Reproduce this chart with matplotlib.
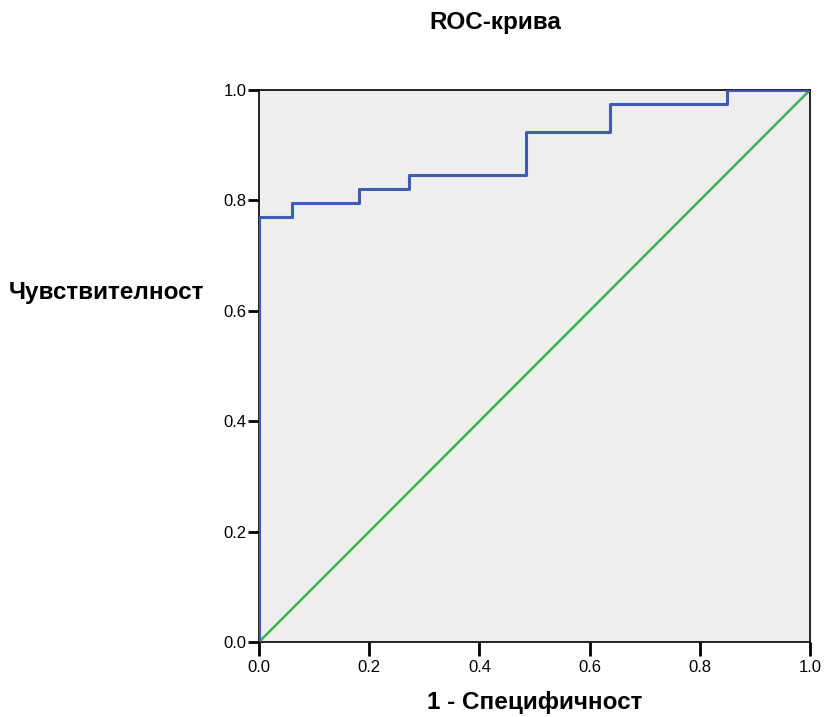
import numpy as np
import matplotlib
matplotlib.use("Agg")
import matplotlib.pyplot as plt

plt.rcParams["font.family"] = ["Liberation Sans", "DejaVu Sans"]

# ROC-крива: точки на стъпаловидната крива (1 - специфичност, чувствителност)
fpr = [0.0, 0.0, 2/33, 2/33, 6/33, 6/33, 9/33, 9/33, 16/33, 16/33, 21/33, 21/33, 28/33, 28/33, 1.0]
tpr = [0.0, 30/39, 30/39, 31/39, 31/39, 32/39, 32/39, 33/39, 33/39, 36/39, 36/39, 38/39, 38/39, 1.0, 1.0]
ref_line = [0.0, 1.0]

ticks = [0.0, 0.2, 0.4, 0.6, 0.8, 1.0]
tick_labels = ["0.0", "0.2", "0.4", "0.6", "0.8", "1.0"]

fig = plt.figure(figsize=(8.26, 7.17), dpi=100)
ax = fig.add_axes([259/826, 75/717, 551/826, 552/717])
ax.set_facecolor("#eeeeee")

ax.plot(ref_line, ref_line, color="#3cb44b", linewidth=1.8, zorder=2)
ax.plot(fpr, tpr, color="#3f5bb5", linewidth=2.2, zorder=3)

ax.set_xlim(0, 1)
ax.set_ylim(0, 1)
ax.set_xticks(ticks)
ax.set_xticklabels(tick_labels)
ax.set_yticks(ticks)
ax.set_yticklabels(tick_labels)
ax.tick_params(axis="both", direction="out", length=8, width=2, labelsize=12, color="black", pad=1)
ax.tick_params(axis="x", length=10, pad=3)

for s in ax.spines.values():
    s.set_linewidth(1.2)
    s.set_color("black")

fig.text(495/826, 1 - 23/717, "ROC-крива", ha="center", va="center", fontsize=17.5, fontweight="bold")
fig.text(9/826, 1 - 293/717, "Чувствителност", ha="left", va="center", fontsize=17.5, fontweight="bold")
fig.text(535/826, 1 - 703/717, "1 - Специфичност", ha="center", va="center", fontsize=17.5, fontweight="bold")

fig.savefig("out.png", dpi=100)
